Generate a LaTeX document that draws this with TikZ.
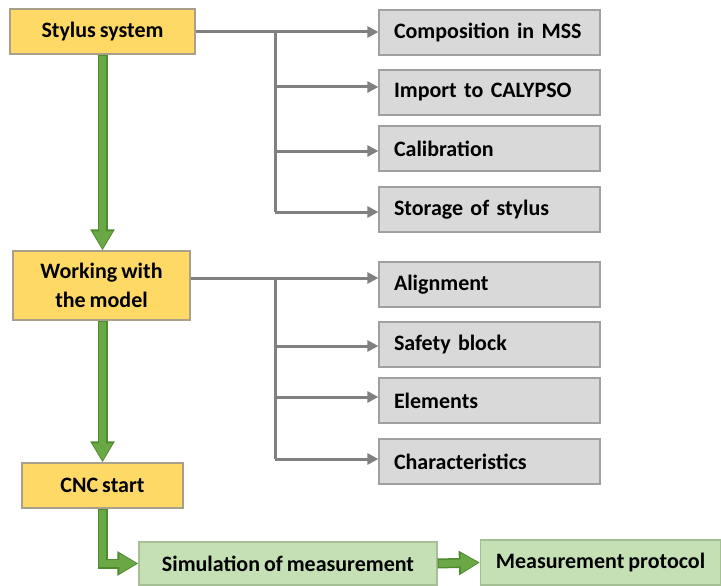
\documentclass[tikz,border=0pt]{standalone}
\usepackage{fontspec}
\setmainfont{Carlito}[WordSpace=0.8]
\usetikzlibrary{arrows.meta,calc}
\definecolor{ybox}{HTML}{FFD966}
\definecolor{ybord}{HTML}{A8A08A}
\definecolor{gbox}{HTML}{D9D9D9}
\definecolor{gbord}{HTML}{A0A0A0}
\definecolor{lgbox}{HTML}{C5E0B4}
\definecolor{lgbord}{HTML}{A3BF93}
\definecolor{garrow}{HTML}{6AA845}
\definecolor{garrowd}{HTML}{4E8A2E}
\definecolor{gline}{HTML}{808080}
\tikzset{
  base/.style={font=\fontsize{22}{29}\selectfont\bfseries, inner sep=0pt, line width=1.2pt},
  ybx/.style={base, draw=ybord, fill=ybox, align=center},
  gbx/.style={base, draw=gbord, fill=gbox, align=left, text width=191pt, inner xsep=15pt, minimum height=45pt, minimum width=221pt},
  lgbx/.style={base, draw=lgbord, fill=lgbox, align=center},
  grayarrow/.style={draw=gline, line width=3pt, -{Triangle[length=11pt,width=11pt]}},
  greenout/.style={draw=garrowd, line width=10pt, -{Triangle[length=21pt,width=23pt]}},
  greenin/.style={draw=garrow, line width=7pt, shorten >=1.6pt, -{Triangle[length=17.5pt,width=18.5pt]}},
  grayline/.style={draw=gline, line width=3pt}
}
\begin{document}
\begin{tikzpicture}[x=1pt,y=-1pt]
\useasboundingbox (0,0) rectangle (721,586);
% left yellow boxes
\node[ybx, minimum width=185pt, minimum height=45pt] (sty) at (102.5,31.5) {Stylus system};
\node[ybx, minimum width=177pt, minimum height=69pt] (wrk) at (101.5,285.5) {Working with\\the model};
\node[ybx, minimum width=161pt, minimum height=45pt] (cnc) at (102.5,485.5) {CNC start};
% gray boxes group 1
\node[gbx] (comp) at (489.5,32.5) {\mbox{Composition in MSS}};
\node[gbx] (imp) at (489.5,92.5) {\mbox{Import to CALYPSO}};
\node[gbx] (cal) at (489.5,148.5) {Calibration};
\node[gbx] (stor) at (489.5,209.5) {Storage of stylus};
% gray boxes group 2
\node[gbx] (ali) at (489.5,284.5) {Alignment};
\node[gbx] (saf) at (489.5,344.5) {Safety block};
\node[gbx] (ele) at (489.5,400.5) {Elements};
\node[gbx] (cha) at (489.5,461.5) {Characteristics};
% green boxes
\node[lgbx, minimum width=298pt, minimum height=43pt] (sim) at (288,563.5) {Simulation of measurement};
\node[lgbx, minimum width=240pt, minimum height=45pt] (mea) at (600.5,562.5) {Measurement protocol};
% trunk coordinates
\coordinate (t1a) at (275,32);
\coordinate (t1b) at (275,212);
\coordinate (t2a) at (275,278);
\coordinate (t2b) at (275,459);
% gray connectors group 1
\draw[grayarrow] (sty.east |- t1a) -- (comp.west |- t1a);
\draw[grayline] (t1a) -- (t1b);
\draw[grayarrow] (t1a |- 0,87) -- (imp.west |- 0,87);
\draw[grayarrow] (t1a |- 0,151) -- (cal.west |- 0,151);
\draw[grayarrow] (t1b) -- (stor.west |- t1b);
% gray connectors group 2
\draw[grayarrow] (wrk.east |- t2a) -- (ali.west |- t2a);
\draw[grayline] (t2a) -- (t2b);
\draw[grayarrow] (t2a |- 0,346) -- (saf.west |- 0,346);
\draw[grayarrow] (t2a |- 0,397) -- (ele.west |- 0,397);
\draw[grayarrow] (t2b) -- (cha.west |- t2b);
% green arrows
\draw[greenout] (sty.south) -- (sty.south |- wrk.north);
\draw[greenin] ([yshift=-1pt]sty.south) -- (sty.south |- wrk.north);
\draw[greenout] (wrk.south -| sty.south) -- (sty.south |- cnc.north);
\draw[greenin] ([yshift=-1pt]wrk.south -| sty.south) -- (sty.south |- cnc.north);
\draw[greenout] (cnc.south) |- (sim.west);
\draw[greenin] ([yshift=-1pt]cnc.south) |- (sim.west);
\draw[greenout] (sim.east) -- (mea.west);
\draw[greenin] ([xshift=1pt]sim.east) -- (mea.west);
\end{tikzpicture}
\end{document}
